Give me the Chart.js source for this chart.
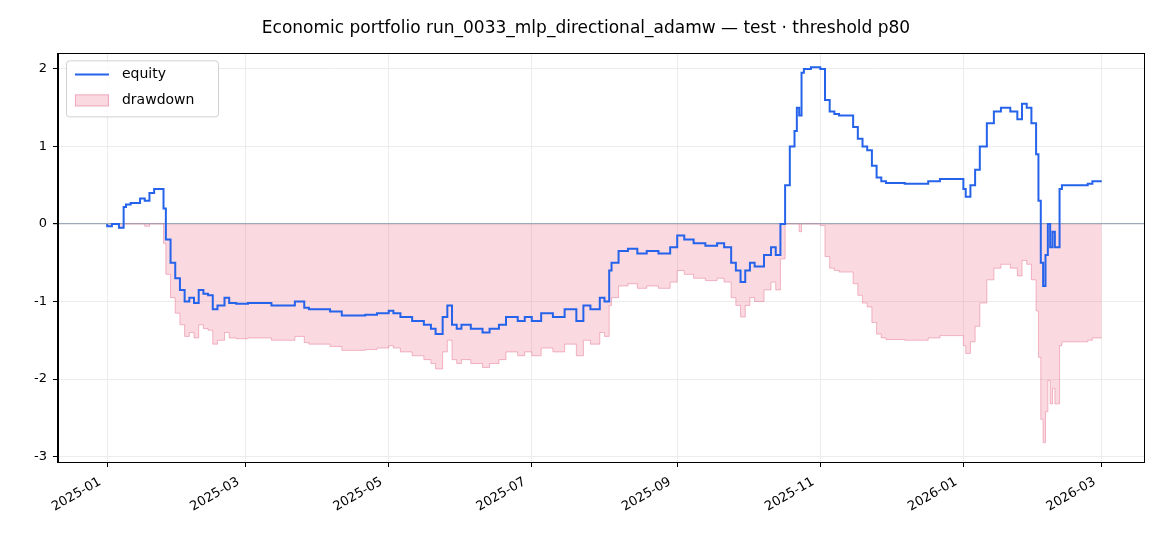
<!DOCTYPE html>
<html><head><meta charset="utf-8">
<script src="https://cdn.jsdelivr.net/npm/chart.js@4"></script>
<style>html,body{margin:0;background:#fff}#w{width:1170px;height:546px}</style>
</head><body><div id="w"><canvas id="c"></canvas></div>
<script>
const equityDays = [0,2,5,7,8,10,14,16,18,20,22,24,25,27,29,31,33,35,37,39,41,43,45,47,50,52,55,60,70,80,84,86,95,100,110,115,120,122,125,130,135,138,140,143,145,147,149,151,155,160,163,167,170,175,178,181,185,190,195,200,203,206,210,212,214,215,218,222,226,230,235,240,243,246,250,255,260,263,266,268,270,272,274,276,280,283,285,287,289,291,293,294,295,296,297,300,304,306,308,310,312,318,320,322,324,326,328,330,332,340,350,355,360,365,366,368,370,372,375,378,381,385,388,390,392,394,396,397,398,399,400,401,402,403,404,406,407,412,418,420,424];
const equityValues = [0,-0.03,0,-0.05,0.22,0.25,0.27,0.33,0.3,0.4,0.45,0.45,0.2,-0.2,-0.5,-0.7,-0.85,-1.0,-0.95,-1.02,-0.85,-0.9,-0.92,-1.1,-1.05,-0.95,-1.02,-1.03,-1.02,-1.05,-1.0,-1.08,-1.1,-1.13,-1.18,-1.17,-1.15,-1.12,-1.15,-1.2,-1.25,-1.3,-1.35,-1.42,-1.2,-1.05,-1.3,-1.35,-1.3,-1.35,-1.4,-1.35,-1.3,-1.2,-1.25,-1.2,-1.25,-1.15,-1.2,-1.1,-1.25,-1.05,-1.1,-0.95,-1.0,-0.6,-0.5,-0.35,-0.32,-0.38,-0.35,-0.38,-0.3,-0.15,-0.2,-0.25,-0.28,-0.25,-0.3,-0.5,-0.6,-0.75,-0.6,-0.5,-0.55,-0.4,-0.3,-0.4,0.0,0.5,1.0,1.2,1.5,1.4,1.95,2.0,2.02,2.0,1.6,1.45,1.42,1.4,1.25,1.1,1.0,0.95,0.75,0.6,0.55,0.53,0.52,0.55,0.58,0.58,0.45,0.35,0.5,0.7,1.0,1.3,1.45,1.5,1.45,1.35,1.55,1.5,1.3,0.9,0.3,-0.5,-0.8,-0.4,0,-0.3,-0.1,-0.3,0.45,0.5,0.5,0.52,0.55];
const tickDays = [0,59,120,181,243,304,365,424];
const tickLabels = ["2025-01","2025-03","2025-05","2025-07","2025-09","2025-11","2026-01","2026-03"];
const yTicks = [-3,-2,-1,0,1,2];

const equityPts = equityDays.map((d,i)=>({x:d,y:equityValues[i]}));
let peak = -Infinity;
const ddPts = equityDays.map((d,i)=>{peak=Math.max(peak,equityValues[i]);return {x:d,y:equityValues[i]-peak};});

Chart.defaults.font.family = "DejaVu Sans";
Chart.defaults.color = "#000";
new Chart(document.getElementById('c'),{
  type:'line',
  data:{datasets:[
    {label:'equity',data:equityPts,borderColor:'#2563eb',backgroundColor:'#2563eb',borderWidth:2,pointRadius:0,stepped:'after',order:1},
    {label:'drawdown',data:ddPts,borderColor:'rgba(231,120,150,0.5)',backgroundColor:'rgba(235,110,140,0.26)',borderWidth:1,pointRadius:0,fill:'origin',stepped:'after',order:2}
  ]},
  options:{
    responsive:true,maintainAspectRatio:false,animation:false,devicePixelRatio:1,
    layout:{padding:{left:28,right:26,top:0,bottom:0}},
    plugins:{
      title:{display:true,text:'Economic portfolio run_0033_mlp_directional_adamw — test · threshold p80',font:{size:17,weight:'normal'},padding:{top:18,bottom:15}},
      legend:{display:false},
      tooltip:{enabled:false}
    },
    scales:{
      x:{type:'linear',min:-21,max:442,
        afterBuildTicks:a=>{a.ticks=tickDays.map(v=>({value:v}));},
        afterFit:a=>{a.height=84;},
        ticks:{callback:(v)=>{const i=tickDays.indexOf(v);return i>=0?tickLabels[i]+'  ':'';},maxRotation:30,minRotation:30,font:{size:13},autoSkip:false},
        grid:{color:'#ececec',tickColor:'#000',tickLength:5},border:{color:'#000'}},
      y:{min:-3.07,max:2.2,
        afterBuildTicks:a=>{a.ticks=yTicks.map(v=>({value:v}));},
        ticks:{font:{size:13},padding:6},
        grid:{color:c=>c.tick&&c.tick.value===0?'#9aa8b8':'#ececec',lineWidth:c=>c.tick&&c.tick.value===0?1.2:1,tickColor:'#000',tickLength:5},border:{color:'#000'}}
    }
  },
  plugins:[{id:'leg',afterDraw(ch){const g=ch.ctx,a=ch.chartArea;
    g.save();g.strokeStyle='#000';g.lineWidth=1;g.strokeRect(Math.round(a.left)+0.5,Math.round(a.top)+0.5,Math.round(a.right-a.left),Math.round(a.bottom-a.top));
    const x=a.left+8,y=a.top+7;
    g.fillStyle='rgba(255,255,255,0.85)';g.strokeStyle='#d0d0d0';
    g.beginPath();g.roundRect(x+0.5,y+0.5,152,56,3);g.fill();g.stroke();
    g.strokeStyle='#2563eb';g.lineWidth=2;g.beginPath();g.moveTo(x+9,y+14);g.lineTo(x+43,y+14);g.stroke();
    g.fillStyle='rgba(235,110,140,0.26)';g.fillRect(x+9,y+34,34,12);g.strokeStyle='rgba(231,120,150,0.5)';g.lineWidth=1;g.strokeRect(x+9.5,y+34.5,33,11);
    g.fillStyle='#000';g.font='14px DejaVu Sans';g.textBaseline='middle';g.fillText('equity',x+56,y+14);g.fillText('drawdown',x+56,y+40);g.restore();}}]
});
</script></body></html>
